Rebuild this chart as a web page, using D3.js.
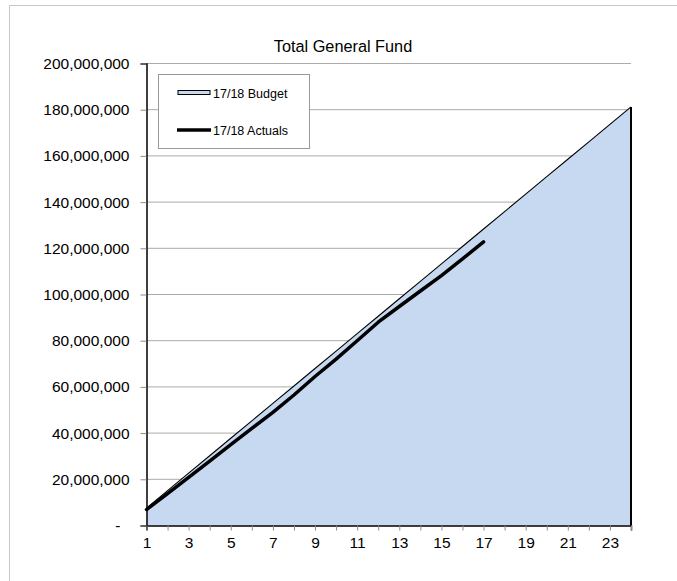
<!DOCTYPE html>
<html><head><meta charset="utf-8">
<script src="https://cdn.jsdelivr.net/npm/d3@7"></script>
<style>
body{margin:0;background:#fff}
text{font-family:"Liberation Sans",Arial,sans-serif;fill:#000}
</style>
</head><body>
<svg id="c" width="677" height="581"></svg>
<script>
const categories = [1,2,3,4,5,6,7,8,9,10,11,12,13,14,15,16,17,18,19,20,21,22,23,24];
const budget = [7.55e6,15.1e6,22.65e6,30.2e6,37.75e6,45.3e6,52.85e6,60.4e6,67.95e6,75.5e6,83.05e6,90.6e6,98.15e6,105.7e6,113.25e6,120.8e6,128.35e6,135.9e6,143.45e6,151e6,158.55e6,166.1e6,173.65e6,181.2e6];
const actuals = [6.9e6,13.8e6,20.8e6,27.9e6,35e6,42e6,49e6,56.5e6,64.5e6,72e6,80e6,88e6,94.8e6,101.5e6,108.2e6,115.4e6,122.8e6];
const yTickValues = [0,20e6,40e6,60e6,80e6,100e6,120e6,140e6,160e6,180e6,200e6];
const xTickLabels = [1,3,5,7,9,11,13,15,17,19,21,23];
const seriesNames = ["17/18 Budget","17/18 Actuals"];
const title = "Total General Fund";

const svg = d3.select("#c");
const L = 146.5, R = 631, T = 63.5, B = 525.5;

svg.append("rect").attr("x",9.5).attr("y",5.5).attr("width",700).attr("height",600)
  .attr("fill","none").attr("stroke","#c8c8c8");

const x = d3.scalePoint().domain(categories).range([L,R]);
const y = d3.scaleLinear().domain([0,200e6]).range([B,T]);

// gridlines
svg.append("g").selectAll("line").data(yTickValues.filter(d=>d>0)).join("line")
  .attr("x1",L).attr("x2",R).attr("y1",d=>y(d)).attr("y2",d=>y(d))
  .attr("stroke","#ababab").attr("stroke-width",1);

// budget area
const bData = categories.map((c,i)=>({c, v:budget[i]}));
svg.append("path").datum(bData)
  .attr("d", d3.area().x(d=>x(d.c)).y0(y(0)).y1(d=>y(d.v)))
  .attr("fill","#c6d9f0");
svg.append("path").datum(bData)
  .attr("d", d3.line().x(d=>x(d.c)).y(d=>y(d.v)))
  .attr("fill","none").attr("stroke","#000").attr("stroke-width",1.1);
svg.append("line").attr("x1",x(24)).attr("x2",x(24)).attr("y1",y(budget[23])).attr("y2",y(0))
  .attr("stroke","#000").attr("stroke-width",2);

// actuals line
const aData = actuals.map((v,i)=>({c:categories[i], v}));
svg.append("path").datum(aData)
  .attr("d", d3.line().x(d=>x(d.c)).y(d=>y(d.v)))
  .attr("fill","none").attr("stroke","#000").attr("stroke-width",3.5)
  .attr("stroke-linejoin","round").attr("stroke-linecap","round");

// axes
const fmt = d3.format(",");
const yAxis = svg.append("g").attr("transform",`translate(${L},0)`)
  .call(d3.axisLeft(y).tickValues(yTickValues).tickSize(6).tickPadding(11)
    .tickFormat(d=> d===0 ? "-" : fmt(d)));
yAxis.select(".domain").attr("stroke","#000").attr("stroke-width",1.5);
yAxis.selectAll(".tick line").attr("stroke","#8c8c8c");
yAxis.selectAll("text").attr("font-size",15.5).attr("font-family",null).attr("fill","#000");
yAxis.selectAll(".tick").filter(d=>d===0).select("text").attr("dx",-9);

const xAxis = svg.append("g").attr("transform",`translate(0,${B})`)
  .call(d3.axisBottom(x).tickValues(categories).tickSize(5).tickPadding(6)
    .tickFormat(d=> xTickLabels.includes(d) ? d : ""));
xAxis.select(".domain").attr("stroke","#000").attr("stroke-width",1.5);
xAxis.selectAll(".tick line").attr("stroke","#8c8c8c");
xAxis.selectAll("text").attr("font-size",15.5).attr("font-family",null).attr("fill","#000");

// title
svg.append("text").attr("x",343).attr("y",52).attr("text-anchor","middle")
  .attr("font-size",16.3).text(title);

// legend
const lg = svg.append("g");
lg.append("rect").attr("x",158.5).attr("y",74.5).attr("width",151).attr("height",74)
  .attr("fill","#fff").attr("stroke","#999");
lg.append("rect").attr("x",178).attr("y",90.5).attr("width",32).attr("height",4)
  .attr("fill","#c6d9f0").attr("stroke","#000").attr("stroke-width",1);
lg.append("text").attr("x",213).attr("y",97.5).attr("font-size",12.5).text(seriesNames[0]);
lg.append("line").attr("x1",177).attr("x2",211).attr("y1",130).attr("y2",130)
  .attr("stroke","#000").attr("stroke-width",3.5);
lg.append("text").attr("x",213).attr("y",134.5).attr("font-size",12.5).text(seriesNames[1]);
</script>
</body></html>
